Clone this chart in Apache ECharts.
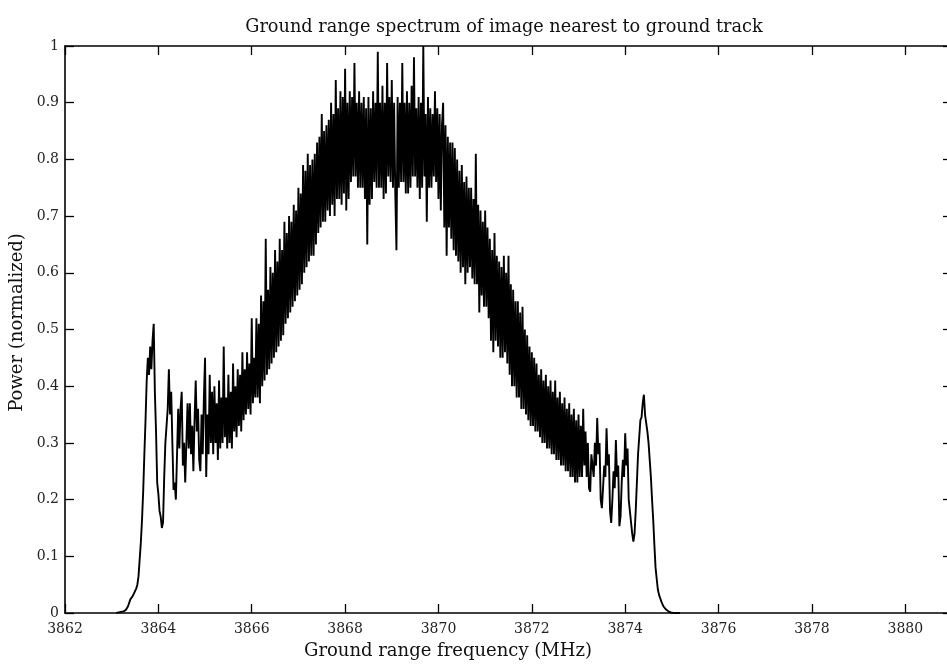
<!DOCTYPE html>
<html>
<head>
<meta charset="utf-8">
<script src="https://cdn.jsdelivr.net/npm/echarts@6/dist/echarts.min.js"></script>
<style>
html,body{margin:0;padding:0;background:#fff;overflow:hidden;}
#chart{width:947px;height:664px;}
</style>
</head>
<body>
<div id="chart"></div>
<script>
// ---- data ----
const chartTitle = 'Ground range spectrum of image nearest to ground track';
const xAxisName = 'Ground range frequency (MHz)';
const yAxisName = 'Power (normalized)';
const xTicks = [3862, 3864, 3866, 3868, 3870, 3872, 3874, 3876, 3878, 3880];
const yTicks = [0, 0.1, 0.2, 0.3, 0.4, 0.5, 0.6, 0.7, 0.8, 0.9, 1];
// sample grid of the spectrum (MHz)
const freqStart = 3863.100;
const freqStep = 0.025;
// normalized power, one value per sample (40 samples per MHz)
const power = [
  // 3863.100 - 3864.075
  0.000, 0.000, 0.001, 0.001, 0.002, 0.002, 0.003, 0.003, 0.005, 0.008,
  0.012, 0.018, 0.024, 0.027, 0.030, 0.034, 0.037, 0.043, 0.050, 0.065,
  0.095, 0.125, 0.165, 0.215, 0.280, 0.340, 0.410, 0.450, 0.420, 0.470,
  0.430, 0.480, 0.510, 0.390, 0.320, 0.230, 0.210, 0.180, 0.170, 0.150,
  // 3864.100 - 3865.075
  0.160, 0.240, 0.300, 0.330, 0.360, 0.430, 0.350, 0.390, 0.300, 0.217,
  0.230, 0.200, 0.280, 0.360, 0.290, 0.360, 0.390, 0.260, 0.300, 0.230,
  0.300, 0.370, 0.290, 0.370, 0.280, 0.330, 0.250, 0.340, 0.410, 0.320,
  0.360, 0.270, 0.250, 0.350, 0.280, 0.380, 0.450, 0.240, 0.350, 0.280,
  // 3865.100 - 3866.075
  0.420, 0.300, 0.390, 0.280, 0.400, 0.300, 0.370, 0.270, 0.410, 0.290,
  0.380, 0.300, 0.470, 0.310, 0.380, 0.290, 0.420, 0.300, 0.390, 0.290,
  0.440, 0.320, 0.400, 0.310, 0.430, 0.330, 0.420, 0.320, 0.460, 0.340,
  0.430, 0.350, 0.460, 0.360, 0.440, 0.350, 0.520, 0.370, 0.450, 0.380,
  // 3866.100 - 3867.075
  0.520, 0.380, 0.510, 0.370, 0.560, 0.400, 0.550, 0.410, 0.660, 0.420,
  0.570, 0.430, 0.610, 0.440, 0.600, 0.450, 0.640, 0.460, 0.620, 0.470,
  0.660, 0.480, 0.640, 0.490, 0.690, 0.510, 0.670, 0.520, 0.700, 0.530,
  0.690, 0.540, 0.720, 0.550, 0.710, 0.560, 0.750, 0.570, 0.740, 0.580,
  // 3867.100 - 3868.075
  0.790, 0.600, 0.780, 0.610, 0.810, 0.620, 0.790, 0.630, 0.800, 0.630,
  0.810, 0.650, 0.830, 0.670, 0.840, 0.680, 0.880, 0.690, 0.850, 0.690,
  0.860, 0.710, 0.870, 0.700, 0.900, 0.720, 0.880, 0.700, 0.940, 0.730,
  0.890, 0.730, 0.920, 0.720, 0.910, 0.740, 0.960, 0.710, 0.900, 0.730,
  // 3868.100 - 3869.075
  0.920, 0.760, 0.910, 0.770, 0.970, 0.770, 0.900, 0.750, 0.920, 0.750,
  0.900, 0.750, 0.910, 0.730, 0.890, 0.650, 0.910, 0.720, 0.890, 0.730,
  0.920, 0.760, 0.900, 0.750, 0.990, 0.750, 0.900, 0.750, 0.930, 0.730,
  0.900, 0.740, 0.970, 0.770, 0.910, 0.760, 0.940, 0.750, 0.900, 0.740,
  // 3869.100 - 3870.075
  0.640, 0.910, 0.750, 0.900, 0.760, 0.970, 0.760, 0.900, 0.740, 0.920,
  0.740, 0.900, 0.750, 0.930, 0.770, 0.980, 0.770, 0.890, 0.750, 0.910,
  0.730, 0.900, 0.750, 1.000, 0.770, 0.880, 0.690, 0.910, 0.750, 0.890,
  0.750, 0.880, 0.770, 0.920, 0.760, 0.890, 0.730, 0.880, 0.710, 0.860,
  // 3870.100 - 3871.075
  0.900, 0.680, 0.860, 0.630, 0.840, 0.680, 0.830, 0.660, 0.830, 0.640,
  0.820, 0.630, 0.800, 0.620, 0.780, 0.600, 0.790, 0.610, 0.760, 0.580,
  0.770, 0.600, 0.750, 0.610, 0.750, 0.590, 0.730, 0.580, 0.810, 0.580,
  0.720, 0.530, 0.710, 0.560, 0.690, 0.540, 0.710, 0.540, 0.680, 0.520,
  // 3871.100 - 3872.075
  0.660, 0.480, 0.640, 0.460, 0.670, 0.480, 0.630, 0.470, 0.620, 0.450,
  0.610, 0.450, 0.630, 0.460, 0.600, 0.440, 0.630, 0.420, 0.580, 0.400,
  0.570, 0.400, 0.550, 0.380, 0.550, 0.380, 0.530, 0.360, 0.540, 0.360,
  0.500, 0.350, 0.490, 0.340, 0.470, 0.330, 0.460, 0.330, 0.450, 0.320,
  // 3872.100 - 3873.075
  0.440, 0.320, 0.420, 0.310, 0.430, 0.300, 0.410, 0.300, 0.420, 0.290,
  0.400, 0.290, 0.410, 0.280, 0.390, 0.280, 0.410, 0.270, 0.380, 0.270,
  0.390, 0.260, 0.370, 0.260, 0.380, 0.250, 0.360, 0.250, 0.370, 0.240,
  0.350, 0.240, 0.360, 0.230, 0.340, 0.230, 0.350, 0.240, 0.330, 0.240,
  // 3873.100 - 3874.075
  0.360, 0.260, 0.320, 0.240, 0.300, 0.220, 0.214, 0.280, 0.260, 0.240,
  0.300, 0.260, 0.344, 0.280, 0.300, 0.200, 0.185, 0.220, 0.260, 0.240,
  0.326, 0.260, 0.280, 0.180, 0.159, 0.200, 0.250, 0.220, 0.305, 0.240,
  0.260, 0.153, 0.170, 0.230, 0.270, 0.240, 0.317, 0.260, 0.290, 0.200,
  // 3874.100 - 3875.175
  0.200, 0.160, 0.140, 0.126, 0.140, 0.180, 0.230, 0.280, 0.310, 0.340,
  0.345, 0.370, 0.385, 0.350, 0.335, 0.320, 0.300, 0.270, 0.240, 0.200,
  0.164, 0.120, 0.080, 0.060, 0.041, 0.032, 0.026, 0.020, 0.015, 0.011,
  0.008, 0.006, 0.004, 0.003, 0.002, 0.001, 0.001, 0.000, 0.000, 0.000,
  0.000, 0.000, 0.000, 0.000
];

const seriesData = power.map((v, i) => [+(freqStart + i * freqStep).toFixed(3), v]);

const FONT = 'DejaVu Serif';
const chart = echarts.init(document.getElementById('chart'), null, {renderer: 'canvas'});

const xMin = xTicks[0], xMax = 3881, xInt = xTicks[1] - xTicks[0];
const yMin = yTicks[0], yMax = yTicks[yTicks.length - 1], yInt = 0.1;

const axisLineStyle = {color: '#000', width: 1.6};
const tickStyle = {color: '#000', width: 1.3};

chart.setOption({
  animation: false,
  backgroundColor: '#fff',
  title: [
    {text: chartTitle, left: 499, top: 13, textAlign: 'center',
     textStyle: {fontFamily: FONT, fontSize: 17.7, fontWeight: 'normal', color: '#111'}},
    {text: xAxisName, left: 443, top: 637, textAlign: 'center',
     textStyle: {fontFamily: FONT, fontSize: 18, fontWeight: 'normal', color: '#111'}}
  ],
  grid: {left: 65, right: -5, top: 46, bottom: 51, containLabel: false, outerBoundsMode: 'none'},
  xAxis: [
    {type: 'value', min: xMin, max: xMax, interval: xInt, position: 'bottom',
     axisLine: {show: true, onZero: false, lineStyle: axisLineStyle},
     axisTick: {show: true, inside: true, length: 9, lineStyle: tickStyle},
     splitLine: {show: false},
     axisLabel: {show: true, margin: 9, color: '#222', fontFamily: FONT, fontSize: 14,
                 showMaxLabel: false,
                 formatter: v => (xTicks.indexOf(v) >= 0 ? String(v) : '')}},
    {type: 'value', min: xMin, max: xMax, interval: xInt, position: 'top',
     axisLine: {show: true, onZero: false, lineStyle: axisLineStyle},
     axisTick: {show: true, inside: true, length: 9, lineStyle: tickStyle},
     splitLine: {show: false}, axisLabel: {show: false}}
  ],
  yAxis: [
    {type: 'value', min: yMin, max: yMax, interval: yInt, position: 'left',
     name: yAxisName, nameLocation: 'middle', nameGap: 38,
     nameTextStyle: {fontFamily: FONT, fontSize: 18, color: '#111', padding: [0, 0, 0, 14]},
     axisLine: {show: true, onZero: false, lineStyle: axisLineStyle},
     axisTick: {show: true, inside: true, length: 9, lineStyle: tickStyle},
     splitLine: {show: false},
     axisLabel: {show: true, margin: 6, color: '#222', fontFamily: FONT, fontSize: 14,
                 formatter: v => String(+v.toFixed(1))}},
    {type: 'value', min: yMin, max: yMax, interval: yInt, position: 'right',
     axisLine: {show: true, onZero: false, lineStyle: axisLineStyle},
     axisTick: {show: true, inside: true, length: 9, lineStyle: tickStyle},
     splitLine: {show: false}, axisLabel: {show: false}}
  ],
  series: [{
    type: 'line',
    xAxisIndex: 0, yAxisIndex: 0,
    data: seriesData,
    showSymbol: false,
    symbol: 'none',
    lineStyle: {color: '#000', width: 1.9},
    silent: true,
    clip: true
  }]
});
</script>
</body>
</html>
